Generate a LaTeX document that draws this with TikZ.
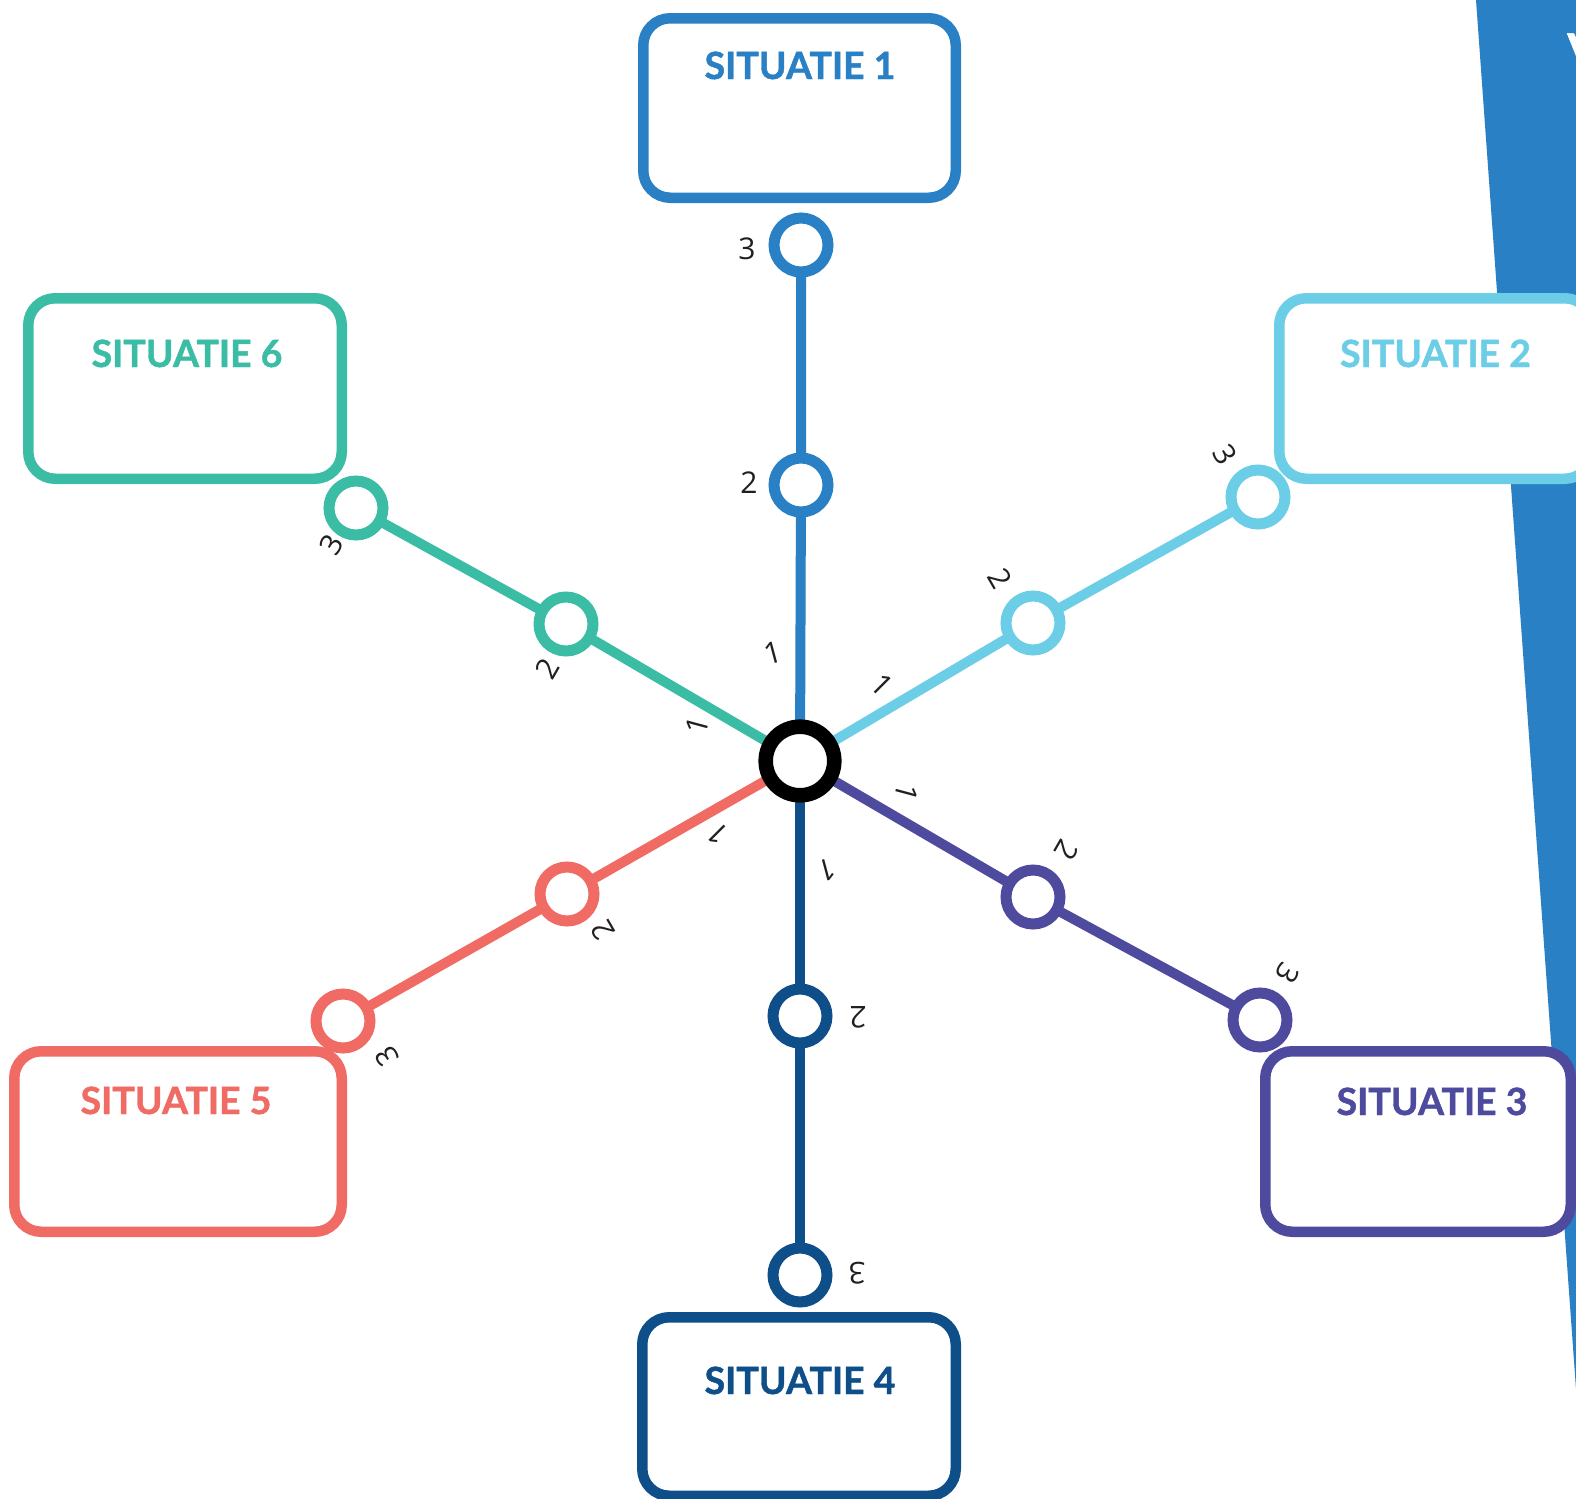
\documentclass[tikz,border=0pt]{standalone}
\usepackage{fontspec}
\setmainfont{Lato}
\newfontfamily\titlefont[BoldFeatures={FakeBold=1.2}]{Lato}
\newfontfamily\numfont{Open Sans}
\usetikzlibrary{backgrounds}
\definecolor{cone}{HTML}{2980C4}
\definecolor{ctwo}{HTML}{6BCDE6}
\definecolor{cthree}{HTML}{4E4A9E}
\definecolor{cfour}{HTML}{0E4F8A}
\definecolor{cfive}{HTML}{F06B63}
\definecolor{csix}{HTML}{3BBDA5}
\definecolor{numc}{HTML}{231F20}
\begin{document}
\begin{tikzpicture}[x=0.5pt,y=-0.5pt,
  sbox/.style={draw, line width=5.25pt, rounded corners=13.5pt, fill=white, inner sep=0pt, minimum height=90.25pt},
  stitle/.style={font=\titlefont\fontsize{18.75}{20}\selectfont\bfseries, anchor=base, inner sep=0pt},
  stopc/.style={circle, draw, fill=white, line width=5.5pt, minimum size=27pt, inner sep=0pt},
  hub/.style={circle, draw=black, fill=white, line width=7.3pt, minimum size=34.3pt, inner sep=0pt},
  conn/.style={line width=5pt},
  num/.style={font=\numfont\fontsize{15}{15}\selectfont, text=numc, inner sep=0pt},
]
\useasboundingbox (0,0) rectangle (1576,1499);
\clip (0,0) rectangle (1576,1499);

% background band
\fill[cone] (1476,0) -- (1600,0) -- (1600,1400) -- (1576.8,1400) -- cycle;
\node[anchor=base west, text=white, font=\titlefont\fontsize{24}{24}\selectfont\bfseries, inner sep=0pt] (vtxt) at (1567,68) {V};

% boxes
\node[sbox, draw=cone, minimum width=156.25pt, minimum height=89.75pt] (box1) at (799.5,108) {};
\node[sbox, draw=ctwo, minimum width=156.25pt] (box2) at (1435.5,388.5) {};
\node[sbox, draw=cthree, minimum width=152.75pt] (box3) at (1418,1141.5) {};
\node[sbox, draw=cfour, minimum width=156.75pt, minimum height=89.25pt] (box4) at (799,1406.5) {};
\node[sbox, draw=cfive, minimum width=163.75pt] (box5) at (178,1141.5) {};
\node[sbox, draw=csix, minimum width=156.75pt] (box6) at (185,388.5) {};

\node[stitle, text=cone] (t1) at (800,79) {SITUATIE 1};
\node[stitle, text=ctwo] (t2) at (1435.5,367) {SITUATIE 2};
\node[stitle, text=cthree] (t3) at (1432,1115) {SITUATIE 3};
\node[stitle, text=cfour] (t4) at (800,1394) {SITUATIE 4};
\node[stitle, text=cfive] (t5) at (176,1114) {SITUATIE 5};
\node[stitle, text=csix] (t6) at (187,367) {SITUATIE 6};

% stops
\node[hub] (c) at (800,761) {};
\node[stopc, draw=cone] (a2) at (801,485) {};
\node[stopc, draw=cone] (a3) at (801,245) {};
\node[stopc, draw=ctwo] (b2) at (1033,623) {};
\node[stopc, draw=ctwo] (b3) at (1258,497) {};
\node[stopc, draw=cthree] (p2) at (1033,897) {};
\node[stopc, draw=cthree] (p3) at (1260,1020) {};
\node[stopc, draw=cfour] (d2) at (800,1016) {};
\node[stopc, draw=cfour] (d3) at (800,1275) {};
\node[stopc, draw=cfive] (r2) at (567,894) {};
\node[stopc, draw=cfive] (r3) at (343,1021) {};
\node[stopc, draw=csix] (g2) at (566,624) {};
\node[stopc, draw=csix] (g3) at (356,508) {};

% connectors
\begin{scope}[on background layer]
\draw[conn, cone] (c.center) -- (a2.center) -- (a3.center);
\draw[conn, ctwo] (c.center) -- (b2.center) -- (b3.center);
\draw[conn, cthree] (c.center) -- (p2.center) -- (p3.center);
\draw[conn, cfour] (c.center) -- (d2.center) -- (d3.center);
\draw[conn, cfive] (c.center) -- (r2.center) -- (r3.center);
\draw[conn, csix] (c.center) -- (g2.center) -- (g3.center);
\end{scope}

% numbers
\node[num, rotate=15] (na1) at (773,653) {1};
\node[num] (na2) at (749,483) {2};
\node[num] (na3) at (747,249) {3};
\node[num, rotate=-45] (nb1) at (882,685) {1};
\node[num, rotate=-60] (nb2) at (1000,578) {2};
\node[num, rotate=-60] (nb3) at (1225,455) {3};
\node[num, rotate=-105] (np1) at (907,793) {1};
\node[num, rotate=-120] (np2) at (1067,850) {2};
\node[num, rotate=-120] (np3) at (1287,973) {3};
\node[num, rotate=-165] (nd1) at (827,870) {1};
\node[num, rotate=180] (nd2) at (858,1017) {2};
\node[num, rotate=180] (nd3) at (857,1273) {3};
\node[num, rotate=135] (nr1) at (718,834) {1};
\node[num, rotate=120] (nr2) at (603,930) {2};
\node[num, rotate=120] (nr3) at (387,1056) {3};
\node[num, rotate=75] (ng1) at (697,725) {1};
\node[num, rotate=60] (ng2) at (547,669) {2};
\node[num, rotate=60] (ng3) at (332,545) {3};
\end{tikzpicture}
\end{document}
